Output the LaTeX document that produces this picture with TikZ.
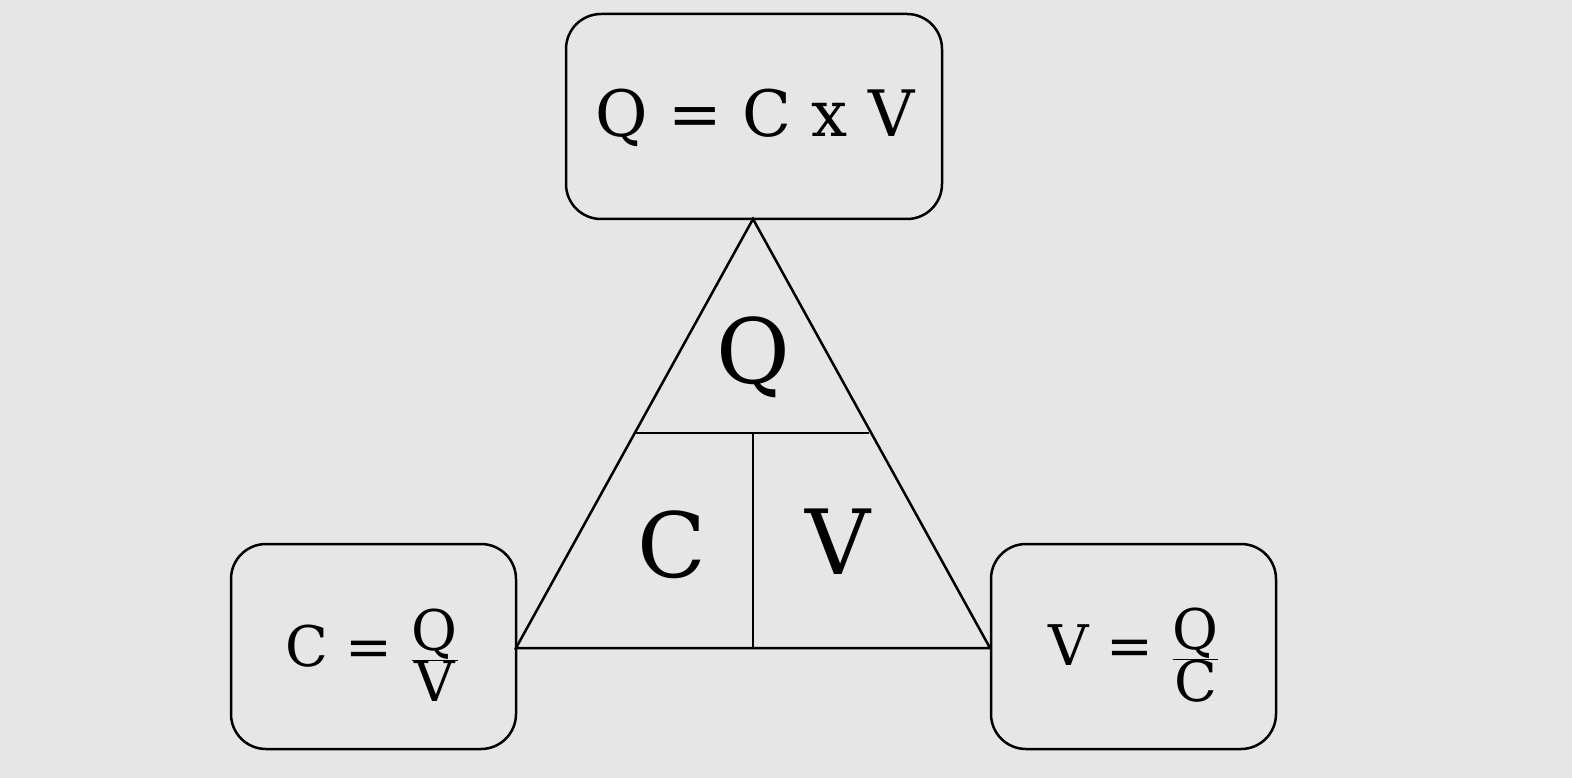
\documentclass[tikz,border=0pt]{standalone}
\usepackage{fontspec}
\setmainfont{DejaVu Serif}
\begin{document}
\begin{tikzpicture}[x=1pt,y=-1pt,
  box/.style={draw,line width=2.5pt,rounded corners=35pt},
  ln/.style={line width=2.5pt},
  lbl/.style={inner sep=0pt,font=\fontsize{64}{70}\selectfont}]
\fill[fill={rgb,255:red,230;green,230;blue,230}] (0,0) rectangle (1572,778);
\useasboundingbox (0,0) rectangle (1572,778);
\draw[box] (566,14) rectangle (942,219);
\draw[box] (231,544) rectangle (516,749);
\draw[box] (991,544) rectangle (1276,749);
\coordinate (A) at (753,219);
\coordinate (B) at (516,648);
\coordinate (Cc) at (990,648);
\draw[ln] (A) -- (B) -- (Cc) -- cycle;
\coordinate (h1) at (636,433); \coordinate (h2) at (869,433);
\coordinate (v1) at (753,433); \coordinate (v2) at (753,648);
\draw[ln] (h1) -- (h2);
\draw[ln] (v1) -- (v2);
\node[lbl] (top) at (755,118) {Q = C x V};
\node[lbl,font=\fontsize{90}{96}\selectfont] (q) at (753,357) {Q};
\node[lbl,font=\fontsize{90}{96}\selectfont] (c) at (672,545) {C};
\node[lbl,font=\fontsize{90}{96}\selectfont] (v) at (838,542) {V};
\node[lbl,font=\fontsize{56}{60}\selectfont] (lf) at (372,655) {C = $\frac{\mbox{Q}}{\mbox{V}}$};
\node[lbl,font=\fontsize{56}{60}\selectfont] (rf) at (1134,655) {V = $\frac{\mbox{Q}}{\mbox{C}}$};
\end{tikzpicture}
\end{document}
